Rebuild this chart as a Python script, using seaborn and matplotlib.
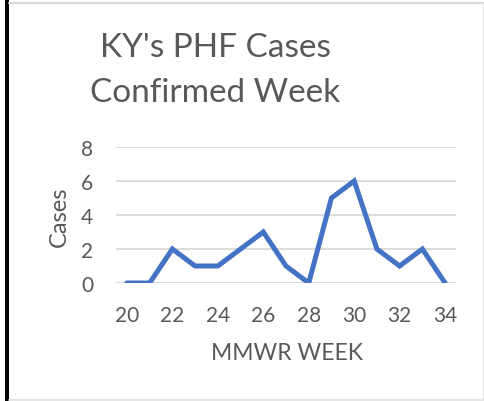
import matplotlib
matplotlib.use("Agg")
import matplotlib.pyplot as plt
import seaborn as sns
import pandas as pd
from matplotlib.lines import Line2D
from matplotlib.patches import Rectangle

weeks = [20, 21, 22, 23, 24, 25, 26, 27, 28, 29, 30, 31, 32, 33, 34]
cases = [0, 0, 2, 1, 1, 2, 3, 1, 0, 5, 6, 2, 1, 2, 0]
x_ticks = [20, 22, 24, 26, 28, 30, 32, 34]
y_ticks = [0, 2, 4, 6, 8]
title_lines = ["KY's PHF Cases", "Confirmed Week"]
x_label = "MMWR WEEK"
y_label = "Cases"

df = pd.DataFrame({"week": weeks, "cases": cases})

sns.set_theme(style="white")
plt.rcParams['font.family'] = ['Lato', 'DejaVu Sans']

W, H = 485, 402
fig = plt.figure(figsize=(W / 100, H / 100), dpi=100)
ax = fig.add_axes([116 / W, 1 - 284 / H, (456 - 116) / W, (284 - 148) / H])

sns.lineplot(data=df, x="week", y="cases", ax=ax, color="#4472C4", linewidth=3.6,
             solid_joinstyle="miter")

ax.set_xlim(19.52, 34.48)
ax.set_ylim(0, 8)
ax.set_xticks(x_ticks)
ax.set_yticks(y_ticks)
ax.yaxis.grid(True, color="#D9D9D9", linewidth=1.3)
ax.set_axisbelow(True)
for s in ax.spines.values():
    s.set_visible(False)
ax.tick_params(axis="both", length=0, labelsize=15, labelcolor="#595959")
ax.tick_params(axis="x", pad=16)
ax.tick_params(axis="y", pad=16.5)
ax.set_xlabel("")
ax.set_ylabel("")

fig.text(287 / W, 1 - 354 / H, x_label, ha="center", va="center", fontsize=16.5, color="#595959")
fig.text(59 / W, 1 - 217 / H, y_label, ha="center", va="center", rotation=90, fontsize=17, color="#595959")
fig.text(215 / W, 1 - 48 / H, title_lines[0], ha="center", va="center", fontsize=24, color="#595959")
fig.text(215 / W, 1 - 93 / H, title_lines[1], ha="center", va="center", fontsize=24, color="#595959")

# frame decorations
fig.add_artist(Rectangle((5 / W, 0), 4 / W, 1, transform=fig.transFigure, color="black", lw=0))
fig.add_artist(Line2D([9 / W, 1], [1 - 4 / H, 1 - 4 / H], transform=fig.transFigure, color="#D9D9D9", lw=1.5))
fig.add_artist(Line2D([9 / W, 1], [1 - 401 / H, 1 - 401 / H], transform=fig.transFigure, color="#E0E0E0", lw=1.2))
fig.add_artist(Line2D([483 / W, 483 / W], [0, 1 - 4 / H], transform=fig.transFigure, color="#E6E6E6", lw=1))

fig.savefig("out.png", dpi=100)
